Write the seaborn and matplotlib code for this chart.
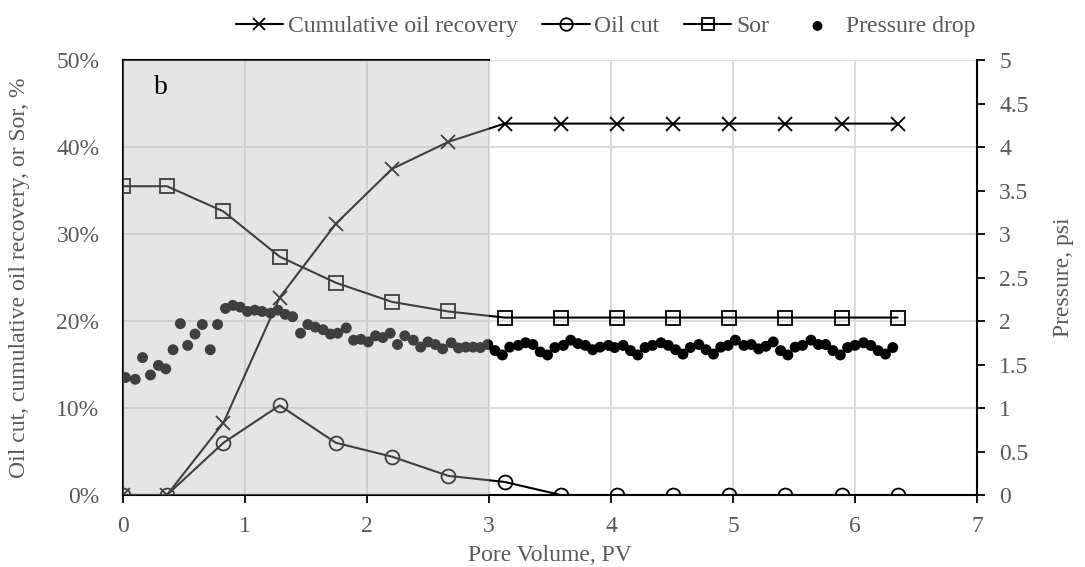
import numpy as np
import pandas as pd
import matplotlib
matplotlib.use("Agg")
import matplotlib.pyplot as plt
from matplotlib.ticker import FuncFormatter
import seaborn as sns

# ---------------- data ----------------
pore_volume = [0.0, 0.36, 0.823, 1.284, 1.745, 2.206, 2.667, 3.128, 3.589,
               4.05, 4.51, 4.97, 5.43, 5.89, 6.35]
cum_recovery = [0.0, 0.0, 8.3, 22.7, 31.2, 37.5, 40.6, 42.7, 42.7,
                42.7, 42.7, 42.7, 42.7, 42.7, 42.7]
oil_cut = [0.0, 0.0, 6.0, 10.3, 6.0, 4.4, 2.2, 1.5, 0.0,
           0.0, 0.0, 0.0, 0.0, 0.0, 0.0]
sor = [35.5, 35.5, 32.6, 27.4, 24.4, 22.2, 21.1, 20.4, 20.4,
       20.4, 20.4, 20.4, 20.4, 20.4, 20.4]

pv_pressure = [0.02, 0.10, 0.16, 0.225, 0.29, 0.35, 0.41, 0.47, 0.53, 0.59,
               0.65, 0.715, 0.775, 0.84, 0.90, 0.96, 1.02, 1.08, 1.14, 1.21,
               1.27, 1.33, 1.39, 1.455, 1.515, 1.575, 1.64, 1.70, 1.76, 1.83,
               1.89, 1.95, 2.01, 2.07, 2.13, 2.19, 2.25, 2.31, 2.38, 2.44,
               2.50, 2.56, 2.62, 2.69, 2.75, 2.81, 2.87, 2.93, 2.99, 3.05,
               3.11, 3.17, 3.24, 3.30, 3.36, 3.42, 3.48, 3.54, 3.61, 3.67,
               3.73, 3.79, 3.85, 3.91, 3.98, 4.03, 4.10, 4.16, 4.22, 4.28,
               4.34, 4.41, 4.47, 4.53, 4.59, 4.65, 4.72, 4.78, 4.84, 4.90,
               4.96, 5.02, 5.09, 5.15, 5.21, 5.27, 5.33, 5.39, 5.45, 5.51,
               5.57, 5.64, 5.70, 5.76, 5.82, 5.88, 5.94, 6.00, 6.07, 6.13,
               6.19, 6.25, 6.31]
pressure = [1.35, 1.33, 1.58, 1.38, 1.49, 1.45, 1.67, 1.97, 1.72, 1.85,
            1.96, 1.67, 1.96, 2.145, 2.18, 2.16, 2.11, 2.125, 2.11, 2.09,
            2.125, 2.076, 2.05, 1.86, 1.96, 1.93, 1.90, 1.85, 1.86, 1.92,
            1.78, 1.79, 1.76, 1.83, 1.81, 1.86, 1.73, 1.83, 1.78, 1.70,
            1.76, 1.73, 1.68, 1.75, 1.69, 1.70, 1.70, 1.695, 1.73, 1.66,
            1.61, 1.70, 1.72, 1.75, 1.73, 1.645, 1.61, 1.695, 1.72, 1.78,
            1.74, 1.72, 1.67, 1.70, 1.72, 1.695, 1.72, 1.66, 1.61, 1.695,
            1.72, 1.75, 1.72, 1.67, 1.62, 1.695, 1.73, 1.67, 1.62, 1.70,
            1.72, 1.78, 1.72, 1.73, 1.68, 1.71, 1.76, 1.66, 1.61, 1.70,
            1.72, 1.78, 1.73, 1.73, 1.66, 1.61, 1.695, 1.72, 1.75, 1.72,
            1.66, 1.62, 1.695]

shade_range = [0, 3]  # PV range of the shaded (grey) zone

x_ticks = [0, 1, 2, 3, 4, 5, 6, 7]
left_ticks = [0, 10, 20, 30, 40, 50]
right_ticks = [0, 0.5, 1, 1.5, 2, 2.5, 3, 3.5, 4, 4.5, 5]

labels = ["Cumulative oil recovery", "Oil cut", "Sor", "Pressure drop"]

# ---------------- style ----------------
sns.set_theme(style="white")
plt.rcParams["font.family"] = ["Liberation Serif", "DejaVu Serif"]

FS = 17
TXT = "#595959"

fig = plt.figure(figsize=(10.85, 5.67), dpi=100)
ax = fig.add_axes([0.1134, 0.127, 0.787, 0.767])
ax2 = ax.twinx()

df = pd.DataFrame({"pv": pore_volume, "rec": cum_recovery,
                   "cut": oil_cut, "sor": sor})
dp = pd.DataFrame({"pv": pv_pressure, "p": pressure})

sns.lineplot(data=df, x="pv", y="rec", ax=ax, color="black", lw=1.5,
             marker="x", markersize=10, markeredgewidth=1.3,
             markeredgecolor="black", label=labels[0], zorder=4)
sns.lineplot(data=df, x="pv", y="cut", ax=ax, color="black", lw=1.5,
             marker="o", markersize=10, markerfacecolor="none",
             markeredgewidth=1.3, markeredgecolor="black",
             label=labels[1], zorder=4)
sns.lineplot(data=df, x="pv", y="sor", ax=ax, color="black", lw=1.5,
             marker="s", markersize=10, markerfacecolor="none",
             markeredgewidth=1.3, markeredgecolor="black",
             label=labels[2], zorder=4)
sns.scatterplot(data=dp, x="pv", y="p", ax=ax2, color="black", s=62,
                edgecolor="none", label=labels[3], zorder=2)

for a in (ax, ax2):
    if a.get_legend() is not None:
        a.get_legend().remove()

# translucent shaded zone drawn over everything in 0-3 PV
ax2.axvspan(shade_range[0], shade_range[1], facecolor=(0.718, 0.718, 0.718),
            alpha=0.35, lw=0, zorder=3)

# axes limits / ticks
ax.set_xlim(0, 7)
ax.set_ylim(0, 50)
ax2.set_ylim(0, 5)
ax.set_xticks(x_ticks)
ax.set_yticks(left_ticks)
ax2.set_yticks(right_ticks)
ax.yaxis.set_major_formatter(FuncFormatter(lambda v, p: f"{v:.0f}%"))
ax2.yaxis.set_major_formatter(FuncFormatter(lambda v, p: f"{v:g}"))

ax.grid(True, color="#d9d9d9", lw=1.3)
ax.set_axisbelow(True)
ax2.grid(False)

ax.tick_params(axis="x", direction="out", length=6, width=1.3, color="black",
               labelsize=FS, labelcolor=TXT, pad=9, bottom=True)
ax.tick_params(axis="y", length=0, labelsize=FS, labelcolor=TXT, pad=17)
ax2.tick_params(axis="y", direction="out", length=6, width=1.3,
                color="black", labelsize=FS, labelcolor=TXT, pad=10, right=True)

# spines
for s in ["left", "top", "bottom"]:
    ax.spines[s].set_visible(True)
    ax.spines[s].set_color("black")
    ax.spines[s].set_linewidth(1.5)
ax.spines["top"].set_bounds(shade_range[0], shade_range[1])
ax.spines["right"].set_visible(False)
for s in ["left", "top", "bottom"]:
    ax2.spines[s].set_visible(False)
ax2.spines["right"].set_visible(True)
ax2.spines["right"].set_color("black")
ax2.spines["right"].set_linewidth(1.5)

ax.set_xlabel("Pore Volume, PV", fontsize=FS, color=TXT, va="center")
ax.set_ylabel("Oil cut, cumulative oil recovery, or Sor, %", fontsize=FS,
              color=TXT, va="center")
ax2.set_ylabel("Pressure, psi", fontsize=FS, color=TXT, va="center")
ax.xaxis.set_label_coords(0.5, -0.138)
ax.yaxis.set_label_coords(-0.121, 0.5)
ax2.yaxis.set_label_coords(1.101, 0.5)

ax2.text(0.044, 0.936, "b", transform=ax2.transAxes, fontsize=20,
         color="black", ha="center", va="center", zorder=6)

h1, l1 = ax.get_legend_handles_labels()
h2, l2 = ax2.get_legend_handles_labels()
fig.legend(h1 + h2, l1 + l2, loc="upper center", bbox_to_anchor=(0.558, 1.01),
           ncol=4, frameon=False, fontsize=FS, labelcolor=TXT,
           handlelength=2.0, handletextpad=0.2, columnspacing=1.05,
           markerscale=0.9)

fig.savefig("out.png", dpi=100)
